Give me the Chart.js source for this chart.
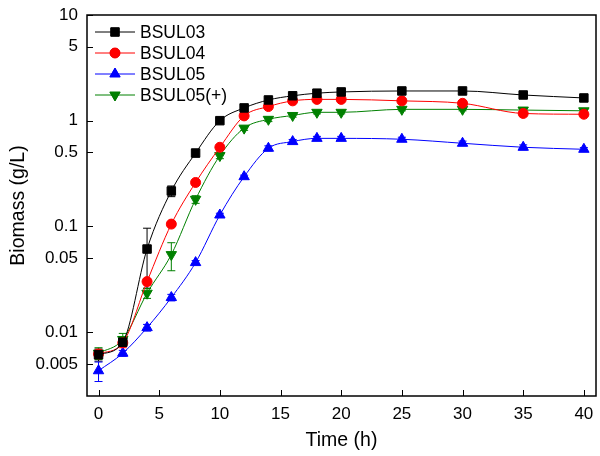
<!DOCTYPE html>
<html>
<head>
<meta charset="utf-8">
<script src="https://cdn.jsdelivr.net/npm/chart.js@4"></script>
<style>
  html, body { margin: 0; padding: 0; background: #fff; }
  #wrap { width: 600px; height: 456px; }
</style>
</head>
<body>
<div id="wrap"><canvas id="c" width="600" height="456"></canvas></div>
<script>
const times = [0, 2, 4, 6, 8, 10, 12, 14, 16, 18, 20, 25, 30, 35, 40];
const xTicks = [0, 5, 10, 15, 20, 25, 30, 35, 40];
const yTicks = [0.005, 0.01, 0.05, 0.1, 0.5, 1, 5, 10];

const bsul03 = [0.0061, 0.0080, 0.061, 0.216, 0.494, 1.0, 1.32, 1.57, 1.72, 1.82, 1.87, 1.91, 1.91, 1.75, 1.64];
const bsul04 = [0.0062, 0.0079, 0.030, 0.105, 0.26, 0.56, 1.11, 1.36, 1.54, 1.59, 1.59, 1.54, 1.46, 1.17, 1.15];
const bsul05 = [0.0043, 0.0063, 0.011, 0.0212, 0.0454, 0.128, 0.295, 0.548, 0.634, 0.68, 0.68, 0.667, 0.611, 0.56, 0.536];
const bsul05p = [0.0063, 0.0085, 0.0233, 0.054, 0.18, 0.467, 0.85, 1.03, 1.12, 1.20, 1.20, 1.28, 1.28, 1.26, 1.24];

const err03 = [0.0008, 0.0006, 0.035, 0.025, 0.04, 0.05, 0.06, 0.06, 0.05, 0.05, 0.05, 0.06, 0.06, 0.05, 0.05];
const err04 = [0.0006, 0.0008, 0.002, 0.005, 0.01, 0.03, 0.05, 0.05, 0.05, 0.05, 0.05, 0.05, 0.06, 0.08, 0.06];
const err05 = [0.0009, 0.0004, 0.0008, 0.0015, 0.002, 0.005, 0.01, 0.03, 0.03, 0.03, 0.03, 0.03, 0.03, 0.03, 0.02];
const err05p = [0.0008, 0.0012, 0.0025, 0.016, 0.015, 0.03, 0.04, 0.05, 0.04, 0.04, 0.04, 0.04, 0.04, 0.04, 0.04];

const seriesNames = ["BSUL03", "BSUL04", "BSUL05", "BSUL05(+)"];
const FONT = "'Liberation Sans', Arial, sans-serif";

function toPoints(vals) {
  return vals.map((v, i) => ({ x: times[i], y: v }));
}

function makeSet(label, vals, errs, color, style, rot, radius) {
  return {
    label: label,
    data: toPoints(vals),
    errors: errs,
    borderColor: color,
    backgroundColor: color,
    borderWidth: 1,
    pointStyle: style,
    rotation: rot,
    pointRadius: radius,
    pointBorderWidth: 1,
    cubicInterpolationMode: "monotone",
  };
}

// error bars drawn in data coordinates
const errorBars = {
  id: "errorBars",
  beforeDatasetsDraw(chart) {
    const ctx = chart.ctx;
    const ys = chart.scales.y, xs = chart.scales.x;
    chart.data.datasets.forEach((ds) => {
      ctx.save();
      ctx.strokeStyle = ds.borderColor;
      ctx.lineWidth = 1;
      ds.data.forEach((p, i) => {
        const e = ds.errors[i];
        const px = xs.getPixelForValue(p.x);
        const top = ys.getPixelForValue(p.y + e);
        const bot = ys.getPixelForValue(Math.max(p.y - e, 1e-4));
        ctx.beginPath();
        ctx.moveTo(px, top); ctx.lineTo(px, bot);
        ctx.moveTo(px - 4, top); ctx.lineTo(px + 4, top);
        ctx.moveTo(px - 4, bot); ctx.lineTo(px + 4, bot);
        ctx.stroke();
      });
      ctx.restore();
    });
  },
};

// frame, inward ticks and legend
const frame = {
  id: "frame",
  afterDraw(chart) {
    const ctx = chart.ctx;
    const a = chart.chartArea;
    const xs = chart.scales.x, ys = chart.scales.y;
    ctx.save();
    ctx.strokeStyle = "#000";
    ctx.lineWidth = 1.5;
    ctx.strokeRect(a.left, a.top, a.right - a.left, a.bottom - a.top);
    ctx.lineWidth = 1;
    ctx.beginPath();
    xTicks.forEach((t) => {
      const px = Math.round(xs.getPixelForValue(t)) + 0.5;
      ctx.moveTo(px, a.bottom); ctx.lineTo(px, a.bottom - 6);
    });
    yTicks.forEach((t) => {
      const py = Math.round(ys.getPixelForValue(t)) + 0.5;
      ctx.moveTo(a.left, py); ctx.lineTo(a.left + 6, py);
    });
    ctx.stroke();

    // legend
    ctx.font = "17.5px " + FONT;
    ctx.textBaseline = "middle";
    chart.data.datasets.forEach((ds, i) => {
      const y = 32 + i * 21;
      ctx.strokeStyle = ds.borderColor;
      ctx.beginPath();
      ctx.moveTo(95, y); ctx.lineTo(135, y);
      ctx.stroke();
      Chart.helpers.drawPoint(ctx, {
        pointStyle: ds.pointStyle, rotation: ds.rotation,
        radius: ds.pointRadius, borderWidth: 1,
      }, 115, y);
      ctx.fillStyle = ds.backgroundColor;
      ctx.strokeStyle = ds.borderColor;
      ctx.fill();
      ctx.fillStyle = "#000";
      ctx.fillText(ds.label, 140, y + 1);
    });
    ctx.restore();
  },
};

new Chart(document.getElementById("c"), {
  type: "line",
  data: {
    datasets: [
      makeSet(seriesNames[0], bsul03, err03, "#000000", "rect", 0, 6),
      makeSet(seriesNames[1], bsul04, err04, "#ff0000", "circle", 0, 5),
      makeSet(seriesNames[2], bsul05, err05, "#0000ff", "triangle", 0, 6),
      makeSet(seriesNames[3], bsul05p, err05p, "#008000", "triangle", 180, 6),
    ],
  },
  options: {
    responsive: false,
    animation: false,
    layout: { autoPadding: false, padding: { top: 15, right: 4, left: 0, bottom: 0 } },
    plugins: {
      legend: { display: false },
      tooltip: { enabled: false },
    },
    scales: {
      x: {
        type: "linear",
        min: -0.95,
        max: 41,
        afterBuildTicks: (s) => { s.ticks = xTicks.map((v) => ({ value: v })); },
        afterFit: (s) => { s.height = 60; s.paddingLeft = 0; s.paddingRight = 0; },
        grid: { display: false, drawTicks: false },
        border: { display: false },
        ticks: {
          color: "#000",
          padding: 8,
          maxRotation: 0,
          font: { family: FONT, size: 17 },
          callback: (v) => String(v),
        },
        title: {
          display: true,
          text: "Time (h)",
          color: "#000",
          font: { family: FONT, size: 19.5 },
          padding: { top: 6 },
        },
      },
      y: {
        type: "logarithmic",
        min: 0.00248,
        max: 10,
        afterBuildTicks: (s) => { s.ticks = yTicks.map((v) => ({ value: v })); },
        afterFit: (s) => { s.width = 87; s.paddingTop = 0; s.paddingBottom = 0; },
        grid: { display: false, drawTicks: false },
        border: { display: false },
        ticks: {
          color: "#000",
          padding: 9,
          font: { family: FONT, size: 17 },
          callback: (v) => String(v),
        },
        title: {
          display: true,
          text: "Biomass (g/L)",
          color: "#000",
          font: { family: FONT, size: 19.5 },
          padding: { top: 7, bottom: 2 },
        },
      },
    },
  },
  plugins: [errorBars, frame],
});
</script>
</body>
</html>
